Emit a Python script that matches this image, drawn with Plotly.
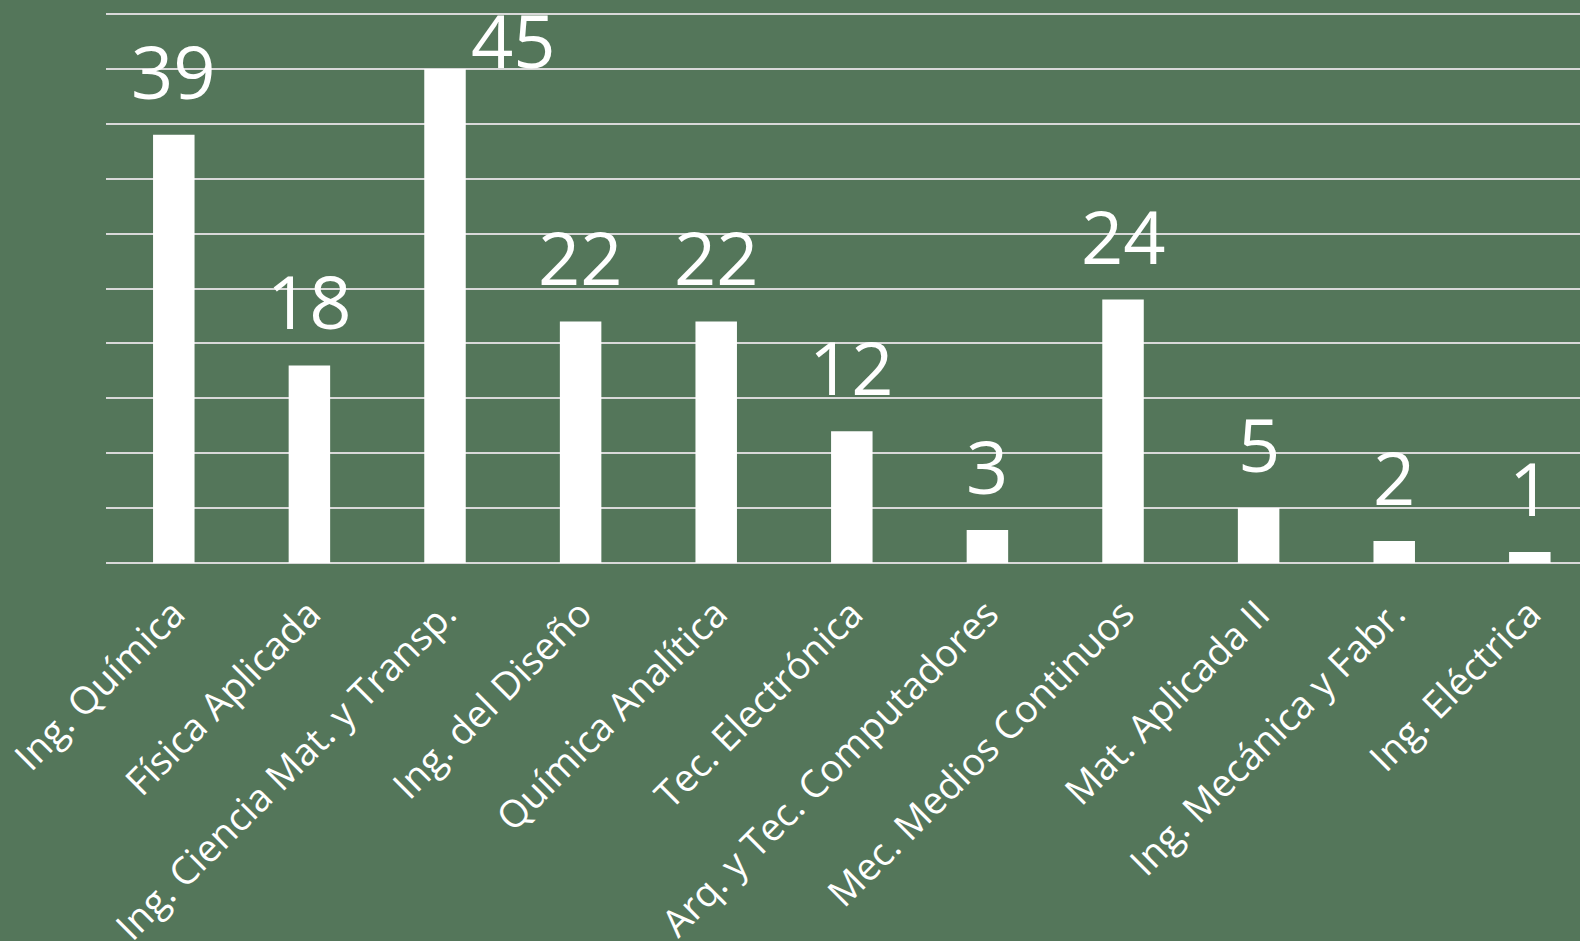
import plotly.graph_objects as go

# Departments and their counts
departments = [
    "Ing. Química",
    "Física Aplicada",
    "Ing. Ciencia Mat. y Transp.",
    "Ing. del Diseño",
    "Química Analítica",
    "Tec. Electrónica",
    "Arq. y Tec. Computadores",
    "Mec. Medios Continuos",
    "Mat. Aplicada II",
    "Ing. Mecánica y Fabr.",
    "Ing. Eléctrica",
]
counts = [39, 18, 45, 22, 22, 12, 3, 24, 5, 2, 1]

BG = "#54765A"
GRID = "#D9D9D9"
FONT = "Open Sans"

fig = go.Figure(
    go.Bar(
        x=departments,
        y=counts,
        marker=dict(color="white", line=dict(width=0)),
        showlegend=False,
    )
)

# value labels above each bar; the tallest one is nudged right to stay inside
label_offsets = {"Ing. Ciencia Mat. y Transp.": (68, -23)}
for name, value in zip(departments, counts):
    dx, dy = label_offsets.get(name, (0, 12))
    fig.add_annotation(
        x=name, y=value, text=str(value),
        showarrow=False, xanchor="center", yanchor="bottom",
        xshift=dx, yshift=dy,
        font=dict(family=FONT, size=74, color="white"),
    )

fig.update_layout(
    width=1580, height=941,
    paper_bgcolor=BG, plot_bgcolor=BG,
    margin=dict(l=106, r=0, t=13, b=378, autoexpand=False),
    bargap=0.694,
    font=dict(family=FONT, color="white"),
)
fig.update_xaxes(
    type="category",
    range=[-0.5, 10.37],
    tickangle=-45,
    tickfont=dict(family=FONT, size=38, color="white"),
    ticks="", showgrid=False,
    showline=False, zeroline=False,
    ticklabelstandoff=20,
    automargin=False,
)
fig.update_yaxes(
    range=[0, 50.1],
    tickvals=[0, 5, 10, 15, 20, 25, 30, 35, 40, 45, 50],
    showticklabels=False,
    showgrid=True, gridcolor=GRID, gridwidth=1.5,
    zeroline=True, zerolinecolor=GRID, zerolinewidth=1.5,
    showline=False,
    automargin=False,
)

fig.write_html("out.html")
